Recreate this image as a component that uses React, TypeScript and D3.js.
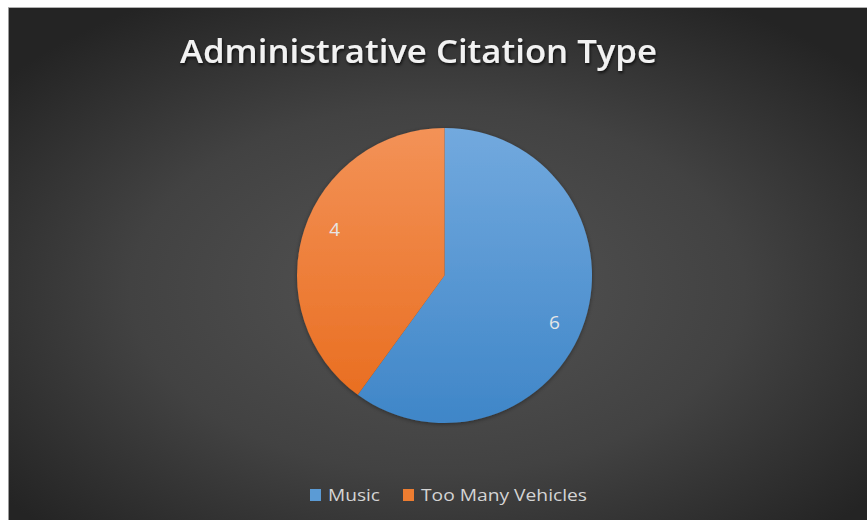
import React from "react";
import * as d3 from "d3";

const categories = ["Music", "Too Many Vehicles"];
const values = [6, 4];
const colorsTop = ["#72a9de", "#f39257"];
const colorsBottom = ["#3f86c8", "#e86b1c"];
const legendColors = ["#5b9bd5", "#ed7d31"];
const title = "Administrative Citation Type";

export default function App() {
  const W = 867, H = 520;
  const cx = 444.5, cy = 275.5, r = 147.5;
  const pie = d3.pie<number>().sort(null).value((d) => d)(values);
  const arc = d3.arc<d3.PieArcDatum<number>>().innerRadius(0).outerRadius(r);
  const labelR = r * 0.81;
  const labelShift = 0.09;
  const legendX = [310, 403];
  const legendTextW = [52, 166];
  return (
    <svg width={W} height={H} style={{ position: "absolute", left: 0, top: 0, display: "block" }}>
      <defs>
        <radialGradient id="bg" cx="0.5" cy="0.55" r="0.65">
          <stop offset="0" stopColor="#545454" />
          <stop offset="0.55" stopColor="#424242" />
          <stop offset="1" stopColor="#242424" />
        </radialGradient>
        {categories.map((c, i) => (
          <linearGradient key={c} id={`g${i}`} x1="0" y1={-r} x2="0" y2={r} gradientUnits="userSpaceOnUse">
            <stop offset="0" stopColor={colorsTop[i]} />
            <stop offset="1" stopColor={colorsBottom[i]} />
          </linearGradient>
        ))}
        <filter id="sh" x="-10%" y="-30%" width="120%" height="160%">
          <feDropShadow dx="1" dy="2" stdDeviation="1.5" floodColor="#000" floodOpacity="0.7" />
        </filter>
        <filter id="psh" x="-10%" y="-10%" width="120%" height="120%">
          <feDropShadow dx="0" dy="1" stdDeviation="2" floodColor="#000" floodOpacity="0.4" />
        </filter>
      </defs>
      <rect x={0} y={0} width={W} height={H} fill="#ffffff" />
      <rect x={8} y={7} width={W - 8} height={H - 7} fill="url(#bg)" />
      <line x1={8.5} y1={7} x2={8.5} y2={H} stroke="#9a9a9a" strokeWidth={1} />
      <line x1={8} y1={7.5} x2={W} y2={7.5} stroke="#b0b0b0" strokeWidth={1} />
      <text
        x={180}
        y={63}
        fontFamily="'Open Sans', 'DejaVu Sans', sans-serif"
        fontWeight={600}
        fontSize={33}
        fill="#f2f2f2"
        textLength={477}
        lengthAdjust="spacingAndGlyphs"
        filter="url(#sh)"
      >
        {title}
      </text>
      <g transform={`translate(${cx},${cy})`} filter="url(#psh)">
        {pie.map((p, i) => (
          <path key={i} d={arc(p) || ""} fill={`url(#g${i})`} />
        ))}
      </g>
      <g transform={`translate(${cx},${cy})`}>
        {pie.map((p, i) => {
          const a = (p.startAngle + p.endAngle) / 2 + labelShift;
          const lx = Math.sin(a) * labelR;
          const ly = -Math.cos(a) * labelR;
          return (
            <text
              key={i}
              x={lx}
              y={ly}
              textAnchor="middle"
              dominantBaseline="central"
              fontFamily="'Open Sans', 'DejaVu Sans', sans-serif"
              fontSize={19}
              fill="#e6e6e6"
            >
              {values[i]}
            </text>
          );
        })}
      </g>
      {categories.map((c, i) => (
        <g key={c}>
          <rect x={legendX[i]} y={489} width={11} height={12} fill={legendColors[i]} />
          <text
            x={legendX[i] + 18}
            y={501}
            fontFamily="'Open Sans', 'DejaVu Sans', sans-serif"
            fontSize={17}
            fill="#d4d4d4"
            textLength={legendTextW[i]}
            lengthAdjust="spacingAndGlyphs"
          >
            {c}
          </text>
        </g>
      ))}
    </svg>
  );
}
